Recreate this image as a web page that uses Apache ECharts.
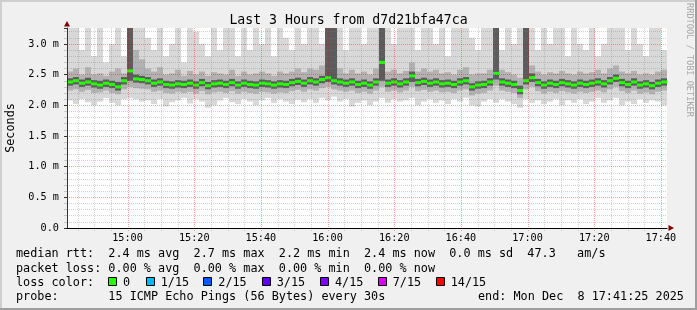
<!DOCTYPE html>
<html><head><meta charset="utf-8">
<script src="https://cdn.jsdelivr.net/npm/echarts@6/dist/echarts.min.js"></script>
<style>html,body{margin:0;padding:0;background:#f0f0f0}#c{width:697px;height:310px}</style>
</head><body><div id="c"></div><script>
// ---- data (ms), one sample every 1.8 minutes ----
const titleText = 'Last 3 Hours from d7d21bfa47ca';
const startTime = [2025, 11, 8, 14, 41, 50];
const endTime   = [2025, 11, 8, 17, 41, 50];
const stepMinutes = 1.8;
const xTickLabels = ['15:00', '15:20', '15:40', '16:00', '16:20', '16:40', '17:00', '17:20', '17:40'];
const xMinorMinutes = 5;
const yTicks = [0, 0.5, 1.0, 1.5, 2.0, 2.5, 3.0];
const yMax = 3.26;
const med = [2.38,2.40,2.36,2.38,2.35,2.33,2.36,2.34,2.30,2.40, 2.56,2.43,2.42,2.40,2.36,2.38,2.34,2.33,2.35,2.34,
 2.36,2.33,2.37,2.32,2.35,2.36,2.34,2.37,2.33,2.36, 2.34,2.33,2.36,2.35,2.33,2.35,2.34,2.37,2.39,2.36,
 2.40,2.38,2.42,2.45,2.40,2.38,2.36,2.38,2.34,2.36, 2.33,2.38,2.70,2.36,2.38,2.35,2.38,2.48,2.37,2.39,
 2.36,2.38,2.35,2.36,2.34,2.38,2.40,2.30,2.33,2.34, 2.38,2.52,2.38,2.36,2.34,2.24,2.40,2.45,2.37,2.33,
 2.36,2.34,2.37,2.35,2.33,2.36,2.34,2.36,2.38,2.35, 2.40,2.44,2.37,2.34,2.38,2.33,2.35,2.32,2.36,2.38];
const lo = [2.08,2.02,2.10,2.05,2.00,2.06,2.12,2.04,2.00,2.10, 2.12,2.10,2.06,2.08,2.02,2.10,1.98,2.05,2.08,2.12,
 2.03,2.10,2.06,1.96,2.00,2.08,2.12,2.05,2.02,2.10, 2.06,2.00,2.08,2.12,2.04,2.10,2.06,2.02,2.09,2.05,
 2.10,2.04,2.12,2.08,2.14,2.06,2.10,1.98,2.04,2.08, 2.00,2.06,2.12,2.04,2.10,2.06,2.08,2.12,2.00,2.06,
 2.10,2.04,2.08,2.02,2.10,2.06,2.12,2.00,1.98,2.06, 2.10,2.04,2.10,2.06,2.02,1.96,2.10,2.04,2.08,2.02,
 2.06,2.10,2.00,2.08,2.04,2.10,2.02,2.06,2.12,2.04, 2.08,2.12,2.00,2.06,2.02,2.10,2.04,2.08,2.06,2.00];
const hi = [3.4,3.4,2.9,3.4,2.8,3.4,2.7,3.0,3.4,2.8, 3.4,3.4,3.4,3.1,2.9,3.4,2.8,3.0,3.4,2.7,
 3.4,3.2,3.0,2.8,3.4,2.9,3.4,3.4,2.8,3.4, 2.9,3.4,3.0,3.4,2.8,3.4,3.1,2.9,3.4,3.0,
 3.4,3.4,3.0,3.4,3.4,3.4,2.9,3.4,3.4,3.0, 3.4,3.4,3.4,3.4,3.0,3.4,3.4,3.4,2.9,3.4,
 3.4,3.0,3.4,2.8,3.4,3.4,3.4,3.1,2.9,3.4, 3.4,3.4,2.9,3.4,3.0,3.4,3.4,3.4,2.9,3.4,
 3.0,3.4,3.4,2.8,3.4,3.0,2.9,3.4,2.8,3.0, 3.4,3.4,3.4,2.9,3.4,3.0,2.8,3.4,3.4,2.9];
const q1 = [2.24,2.26,2.22,2.25,2.20,2.21,2.24,2.20,2.18,2.26, 2.30,2.28,2.27,2.26,2.22,2.24,2.20,2.19,2.22,2.20,
 2.22,2.19,2.23,2.18,2.21,2.22,2.20,2.23,2.19,2.22, 2.20,2.19,2.22,2.21,2.19,2.21,2.20,2.23,2.25,2.22,
 2.26,2.24,2.28,2.30,2.26,2.24,2.22,2.24,2.20,2.22, 2.19,2.24,2.30,2.22,2.24,2.21,2.24,2.30,2.23,2.25,
 2.22,2.24,2.21,2.22,2.20,2.24,2.26,2.16,2.19,2.20, 2.24,2.32,2.24,2.22,2.20,2.12,2.26,2.30,2.23,2.19,
 2.22,2.20,2.23,2.21,2.19,2.22,2.20,2.22,2.24,2.21, 2.26,2.30,2.23,2.20,2.24,2.19,2.21,2.18,2.22,2.24];
const q3 = [2.55,2.60,2.50,2.62,2.50,2.52,2.48,2.55,2.60,2.52, 3.40,2.90,2.75,2.60,2.55,2.62,2.50,2.52,2.58,2.48,
 2.56,2.50,2.55,2.48,2.54,2.52,2.50,2.58,2.48,2.55, 2.50,2.52,2.55,2.52,2.48,2.55,2.52,2.55,2.60,2.54,
 2.60,2.58,2.65,3.40,3.00,2.60,2.52,2.58,2.52,2.55, 2.50,2.60,3.40,2.55,2.58,2.52,2.56,2.70,2.55,2.60,
 2.55,2.58,2.52,2.54,2.50,2.58,2.62,2.50,2.52,2.52, 2.58,3.40,2.58,2.54,2.50,2.45,3.40,2.65,2.55,2.50,
 2.54,2.52,2.56,2.52,2.50,2.55,2.52,2.54,2.58,2.52, 2.60,2.65,2.55,2.52,2.56,2.50,2.52,2.50,2.55,2.58];
const d1 = [2.32,2.34,2.30,2.32,2.29,2.27,2.30,2.28,2.24,2.34, 2.40,2.37,2.36,2.34,2.30,2.32,2.28,2.27,2.29,2.28,
 2.30,2.27,2.31,2.26,2.29,2.30,2.28,2.31,2.27,2.30, 2.28,2.27,2.30,2.29,2.27,2.29,2.28,2.31,2.33,2.30,
 2.34,2.32,2.36,2.38,2.34,2.32,2.30,2.32,2.28,2.30, 2.27,2.32,2.40,2.30,2.32,2.29,2.32,2.38,2.31,2.33,
 2.30,2.32,2.29,2.30,2.28,2.32,2.34,2.24,2.27,2.28, 2.32,2.42,2.32,2.30,2.28,2.18,2.34,2.38,2.31,2.27,
 2.30,2.28,2.31,2.29,2.27,2.30,2.28,2.30,2.32,2.29, 2.34,2.38,2.31,2.28,2.32,2.27,2.29,2.26,2.30,2.32];
const d3 = [2.44,2.46,2.42,2.45,2.41,2.40,2.42,2.40,2.38,2.46, 3.40,2.50,2.48,2.46,2.42,2.44,2.40,2.39,2.41,2.40,
 2.42,2.39,2.43,2.38,2.41,2.42,2.40,2.43,2.39,2.42, 2.40,2.39,2.42,2.41,2.39,2.41,2.40,2.43,2.45,2.42,
 2.46,2.44,2.48,3.40,3.40,2.44,2.42,2.44,2.40,2.42, 2.39,2.44,3.40,2.42,2.44,2.41,2.44,2.55,2.43,2.45,
 2.42,2.44,2.41,2.42,2.40,2.44,2.46,2.36,2.39,2.40, 2.44,3.40,2.44,2.42,2.40,2.32,3.40,2.52,2.43,2.39,
 2.42,2.40,2.43,2.41,2.39,2.42,2.40,2.42,2.44,2.41, 2.46,2.50,2.43,2.40,2.44,2.39,2.41,2.38,2.42,2.44];
const legendLines = [
  'median rtt:  2.4 ms avg  2.7 ms max  2.2 ms min  2.4 ms now  0.0 ms sd  47.3   am/s',
  'packet loss: 0.00 % avg  0.00 % max  0.00 % min  0.00 % now',
  'loss color:',
  'probe:       15 ICMP Echo Pings (56 Bytes) every 30s'
];
const endText = 'end: Mon Dec  8 17:41:25 2025';
const lossLabels = ['0', '1/15', '2/15', '3/15', '4/15', '7/15', '14/15'];
const lossColors = ['#26ff00', '#00b8ff', '#0059ff', '#5e00ff', '#7e00ff', '#dd00ff', '#ff0000'];
const creditText = 'RRDTOOL / TOBI OETIKER';

// ---- build ----
const T0 = new Date(...startTime).getTime();
const T1 = new Date(...endTime).getTime();
const STEP = stepMinutes * 60000;
const rows = med.map((m, i) => [T0 + STEP * (i + 0.5), lo[i], q1[i], m, q3[i], hi[i], d1[i], d3[i]]);
// vertical grid lines: majors from the tick labels, minors every xMinorMinutes between them
const majorTimes = xTickLabels.map(s => {
  const [h, m] = s.split(':').map(Number);
  return new Date(startTime[0], startTime[1], startTime[2], h, m, 0).getTime();
});
const gridRows = [];
for (let t = majorTimes[0] - 20 * 60000; t <= T1; t += xMinorMinutes * 60000) {
  if (t > T0) gridRows.push([t, majorTimes.includes(t) ? 1 : 0]);
}

const MONO = '"DejaVu Sans Mono", monospace';
const chart = echarts.init(document.getElementById('c'), null, {renderer: 'canvas'});

function renderItem(params, api) {
  const t = api.value(0);
  const x0 = api.coord([t - STEP / 2, 0])[0];
  const x1 = api.coord([t + STEP / 2, 0])[0];
  const w = x1 - x0;
  const Y = v => api.coord([t, Math.min(v, yMax)])[1];
  const band = (a, b, fill) => {
    const yb = Y(b), ya = Y(a);
    return {type: 'rect', shape: {x: x0, y: yb, width: w, height: ya - yb}, style: {fill}};
  };
  const ym = Y(api.value(3));
  return {type: 'group', children: [
    band(api.value(1), api.value(5), '#d8d8d8'),
    band(api.value(2), api.value(4), '#b2b2b2'),
    band(api.value(6), api.value(7), '#5c5c5c'),
    {type: 'rect', shape: {x: x0, y: ym - 1.5, width: w, height: 3}, style: {fill: lossColors[0]}}
  ]};
}

const gray = 'rgba(128,128,128,0.36)';
const red = 'rgba(235,0,0,0.36)';
const redArr = [red, red, red, red, red, red, red, 'transparent'];

function renderGrid(params, api) {
  const t = api.value(0);
  const x = Math.round(api.coord([t, 0])[0]) + 0.5;
  const yb = api.coord([t, 0])[1] + 3;
  const yt = api.coord([t, yMax])[1];
  return {type: 'line', shape: {x1: x, y1: yb, x2: x, y2: yt},
    style: {stroke: api.value(1) ? red : gray, lineWidth: 1, lineDash: [1, 1]}};
}

const graphics = [
  {type: 'rect', shape: {x: 0, y: 0, width: 697, height: 2}, style: {fill: '#cfcfcf'}, silent: true},
  {type: 'rect', shape: {x: 0, y: 0, width: 2, height: 310}, style: {fill: '#cfcfcf'}, silent: true},
  {type: 'rect', shape: {x: 0, y: 308, width: 697, height: 2}, style: {fill: '#9e9e9e'}, silent: true},
  {type: 'rect', shape: {x: 695, y: 0, width: 2, height: 310}, style: {fill: '#9e9e9e'}, silent: true},
  {type: 'polygon', shape: {points: [[64, 26.5], [70, 26.5], [67, 21]]}, style: {fill: '#7f0000'}, z: 10},
  {type: 'polygon', shape: {points: [[668.5, 225], [668.5, 231], [674, 228]]}, style: {fill: '#7f0000'}, z: 10},
  {type: 'text', x: 689, y: 60, rotation: -Math.PI / 2,
   style: {text: creditText, font: '8.6px ' + MONO, fill: '#a8a8a8', align: 'center', verticalAlign: 'middle'}}
];
const lineY = [254.3, 268.5, 282.5, 296.5];
legendLines.forEach((s, i) => graphics.push({type: 'text', x: 16, y: lineY[i],
  style: {text: s, font: '11.8px ' + MONO, fill: '#000', verticalAlign: 'middle'}}));
graphics.push({type: 'text', x: 478, y: lineY[3],
  style: {text: endText, font: '11.8px ' + MONO, fill: '#000', verticalAlign: 'middle'}});
const boxX = [108, 145.7, 203.3, 261.7, 320, 377.7, 435.7];
lossLabels.forEach((lab, i) => {
  graphics.push({type: 'rect', shape: {x: Math.round(boxX[i]) + 0.5, y: 277.5, width: 8, height: 8},
    style: {fill: lossColors[i], stroke: '#000', lineWidth: 1}});
  graphics.push({type: 'text', x: boxX[i] + 15, y: lineY[2],
    style: {text: lab, font: '11.8px ' + MONO, fill: '#000', verticalAlign: 'middle'}});
});

chart.setOption({
  backgroundColor: '#f0f0f0',
  animation: false,
  title: {text: titleText, left: 'center', top: 9,
    textStyle: {fontFamily: MONO, fontSize: 13.2, fontWeight: 'normal', color: '#000'}},
  grid: {left: 67, top: 28, width: 600, height: 200, show: true, backgroundColor: '#fff', borderWidth: 0,
    containLabel: false, outerBoundsMode: 'none'},
  xAxis: {
    type: 'time', min: T0, max: T1, z: 4,
    minInterval: 25 * 60000, maxInterval: 25 * 60000,
    axisLine: {lineStyle: {color: '#000', width: 1}},
    axisTick: {show: false},
    axisLabel: {formatter: '{HH}:{mm}', fontFamily: MONO, fontSize: 10.2, color: '#000', margin: 5,
      showMinLabel: false, showMaxLabel: false},
    splitLine: {show: false}
  },
  yAxis: {
    type: 'value', min: 0, max: yMax, interval: yTicks[1] - yTicks[0], z: 3,
    name: 'Seconds', nameLocation: 'middle', nameRotate: 90, nameGap: 50,
    nameTextStyle: {fontFamily: MONO, fontSize: 11.8, color: '#000'},
    axisLine: {show: true, lineStyle: {color: '#333'}},
    axisTick: {show: true, length: 3, lineStyle: {color: redArr}},
    minorTick: {show: true, splitNumber: 5, length: 3, lineStyle: {color: gray}},
    axisLabel: {fontFamily: MONO, fontSize: 10.2, color: '#000', margin: 8, showMaxLabel: false,
      formatter: v => (v === 0 ? '0.0' : (yTicks.includes(v) ? v.toFixed(1) + ' m' : ''))},
    splitLine: {show: true, lineStyle: {color: redArr, type: [1, 1]}},
    minorSplitLine: {show: true, lineStyle: {color: gray, type: [1, 1]}}
  },
  series: [
    {type: 'custom', renderItem, data: rows, encode: {x: 0, y: 3}, z: 2, silent: true},
    {type: 'custom', renderItem: renderGrid, data: gridRows, encode: {x: 0, y: 1}, z: 3, silent: true}
  ],
  graphic: graphics
});
</script></body></html>
